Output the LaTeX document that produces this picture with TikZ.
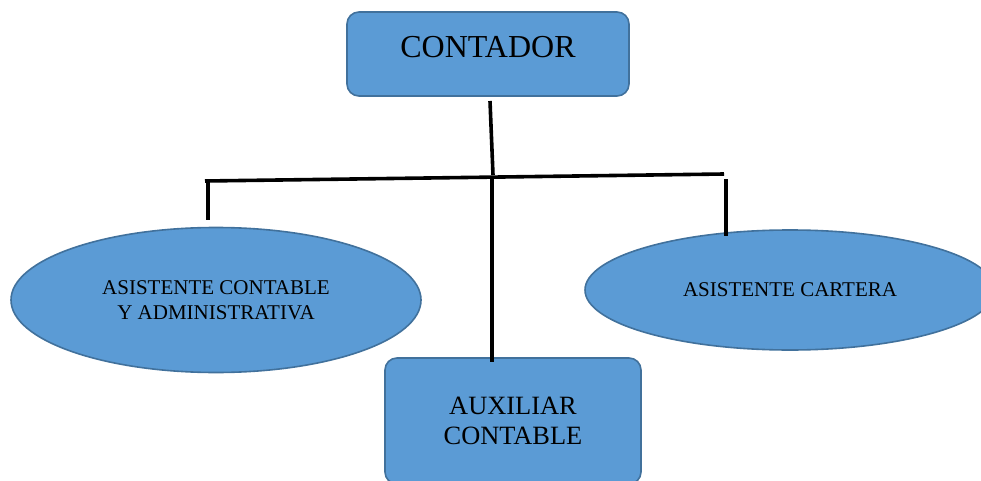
\documentclass[tikz,border=0pt]{standalone}
\usepackage{fontspec}
\setmainfont{Liberation Serif}
\usetikzlibrary{shapes.geometric}
\definecolor{boxfill}{HTML}{5B9BD5}
\definecolor{boxline}{HTML}{41719C}
\tikzset{
  orgbox/.style={draw=boxline, fill=boxfill, line width=1.6pt, rounded corners=12pt, inner sep=0pt},
  orgell/.style={ellipse, draw=boxline, fill=boxfill, line width=1.6pt, inner sep=0pt, align=center},
  link/.style={draw=black, line width=3.6pt}
}
\begin{document}
\begin{tikzpicture}[x=1pt,y=-1pt]
\useasboundingbox (0,0) rectangle (981,481);
\clip (0,0) rectangle (981,481);
% nodes
\node[orgbox, anchor=base, minimum width=282pt, text height=46pt, text depth=38pt, font=\fontsize{32}{36}\selectfont] (contador) at (488,58) {CONTADOR};
\node[orgell, minimum width=410pt, minimum height=145pt, font=\fontsize{21}{25}\selectfont] (asis1) at (216,300) {ASISTENTE CONTABLE\\Y ADMINISTRATIVA};
\node[orgell, minimum width=410pt, minimum height=120pt, font=\fontsize{21}{25}\selectfont] (asis2) at (790,290) {ASISTENTE CARTERA};
\node[orgbox, minimum width=256pt, minimum height=126pt, align=center, font=\fontsize{26.4}{30}\selectfont] (aux) at (513,421) {AUXILIAR\\CONTABLE};
% connector points
\coordinate (c0) at (490,101);
\coordinate (c1) at (493,175);
\coordinate (hl) at (205,181);
\coordinate (hr) at (724,174);
\coordinate (l0) at (208,180);
\coordinate (l1) at (208,220);
\coordinate (r0) at (726,179);
\coordinate (r1) at (726,236);
\coordinate (m0) at (492,179);
\coordinate (m1) at (492,362);
% connectors
\draw[link] (c0) -- (c1);
\draw[link] (hl) -- (hr);
\draw[link] (l0) -- (l1);
\draw[link] (r0) -- (r1);
\draw[link] (m0) -- (m1);
\end{tikzpicture}
\end{document}
